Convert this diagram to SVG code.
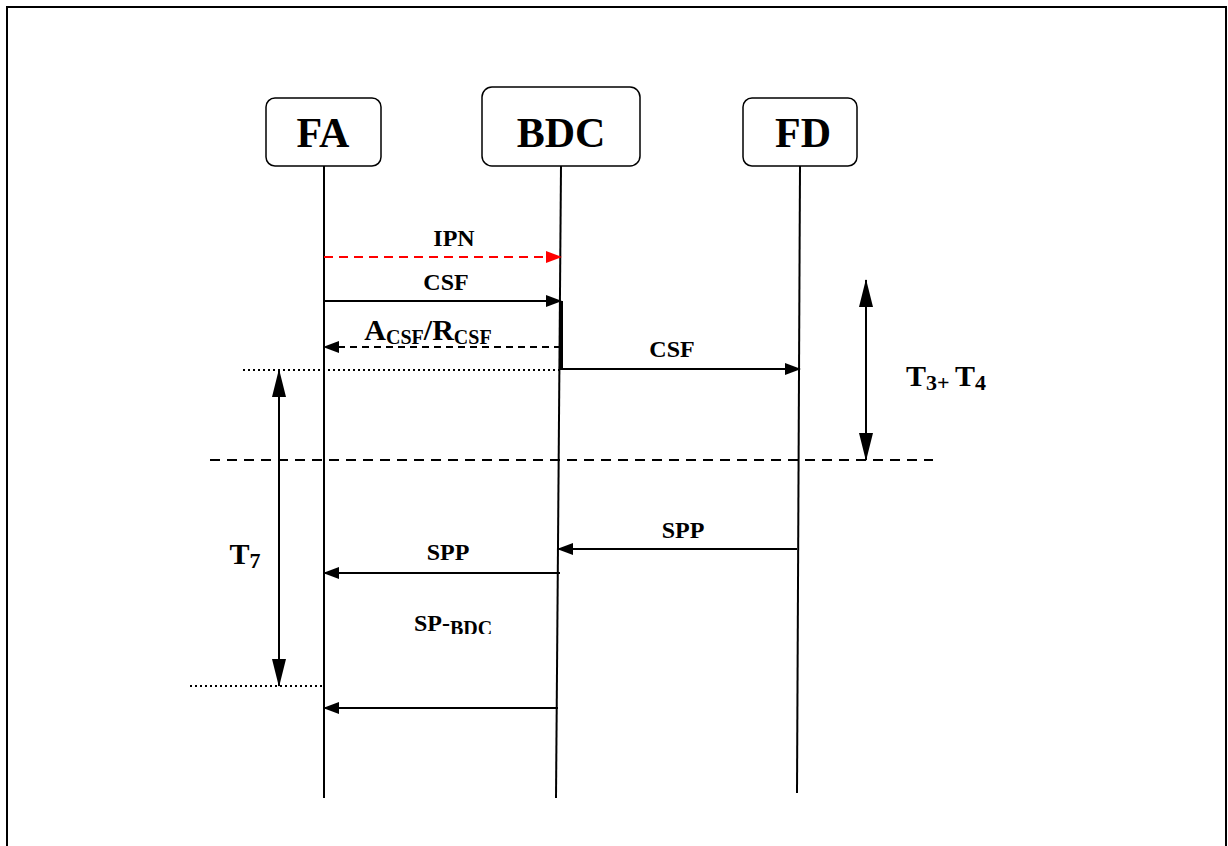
<svg xmlns="http://www.w3.org/2000/svg" width="1228" height="846" viewBox="0 0 1228 846">
<style>
.box{fill:#fff;stroke:#000;stroke-width:1.5}
.hd{font-family:"Liberation Serif",serif;font-weight:bold;font-size:42px;text-anchor:middle}
.lb{font-family:"Liberation Serif",serif;font-weight:bold;font-size:24px;text-anchor:middle}
.ll{stroke:#000;stroke-width:2;fill:none}
.msg{stroke:#000;stroke-width:2;fill:none}
</style>
<defs>
<marker id="ah" markerWidth="16" markerHeight="12" refX="15" refY="6" orient="auto" markerUnits="userSpaceOnUse"><path d="M0,0 L16,6 L0,12 z" fill="#000"/></marker>
<marker id="ahr" markerWidth="16" markerHeight="12" refX="15" refY="6" orient="auto" markerUnits="userSpaceOnUse"><path d="M0,0 L16,6 L0,12 z" fill="#f00"/></marker>
<marker id="dv" markerWidth="28" markerHeight="14" refX="27" refY="7" orient="auto-start-reverse" markerUnits="userSpaceOnUse"><path d="M0,0 L28,7 L0,14 z" fill="#000"/></marker>
<clipPath id="spclip"><rect x="380" y="590" width="160" height="44"/></clipPath>
</defs>
<rect x="7" y="7" width="1219" height="845" fill="#fff" stroke="#000" stroke-width="2"/>
<g id="FA"><rect class="box" x="266" y="98" width="115" height="68" rx="9"/><text class="hd" x="323" y="147">FA</text></g>
<g id="BDC"><rect class="box" x="482" y="87" width="158" height="79" rx="10"/><text class="hd" x="561" y="147">BDC</text></g>
<g id="FD"><rect class="box" x="743" y="98" width="114" height="68" rx="9"/><text class="hd" x="803" y="147">FD</text></g>
<g id="connectors">
<line class="ll" x1="324" y1="166" x2="324" y2="798"/>
<line class="ll" x1="561" y1="166" x2="556" y2="798"/>
<line class="ll" x1="800" y1="166" x2="797" y2="793"/>
<line x1="324" y1="257" x2="561" y2="257" stroke="#f00" stroke-width="2" stroke-dasharray="9,6" marker-end="url(#ahr)"/>
<line class="msg" x1="324" y1="301" x2="561" y2="301" marker-end="url(#ah)"/>
<line x1="561" y1="301" x2="561" y2="370" stroke="#000" stroke-width="4"/>
<line class="msg" x1="561" y1="347" x2="324" y2="347" stroke-dasharray="7,5" marker-end="url(#ah)"/>
<line x1="243" y1="370" x2="561" y2="370" stroke="#000" stroke-width="2" stroke-dasharray="2,3"/>
<line class="msg" x1="561" y1="369" x2="800" y2="369" marker-end="url(#ah)"/>
<line x1="866" y1="280" x2="866" y2="460" stroke="#000" stroke-width="2" marker-start="url(#dv)" marker-end="url(#dv)"/>
<line x1="210" y1="460" x2="933" y2="460" stroke="#000" stroke-width="2" stroke-dasharray="10,7"/>
<line x1="279" y1="370" x2="279" y2="686" stroke="#000" stroke-width="2" marker-start="url(#dv)" marker-end="url(#dv)"/>
<line class="msg" x1="797" y1="549" x2="558" y2="549" marker-end="url(#ah)"/>
<line class="msg" x1="560" y1="573" x2="324" y2="573" marker-end="url(#ah)"/>
<line x1="190" y1="686" x2="324" y2="686" stroke="#000" stroke-width="2" stroke-dasharray="2,3"/>
<line class="msg" x1="558" y1="708" x2="324" y2="708" marker-end="url(#ah)"/>
</g>
<g id="labels">
<text class="lb" x="454" y="246">IPN</text>
<text class="lb" x="446" y="290">CSF</text>
<text class="lb" x="428" y="340"><tspan font-size="30">A</tspan><tspan font-size="20" dy="4">CSF</tspan><tspan font-size="30" dy="-4">/R</tspan><tspan font-size="20" dy="4">CSF</tspan></text>
<text class="lb" x="946" y="386"><tspan font-size="30">T</tspan><tspan font-size="22" dy="4">3+ </tspan><tspan font-size="30" dy="-4">T</tspan><tspan font-size="22" dy="4">4</tspan></text>
<text class="lb" x="245" y="564"><tspan font-size="30">T</tspan><tspan font-size="22" dy="4">7</tspan></text>
<text class="lb" x="672" y="357">CSF</text>
<text class="lb" x="683" y="538">SPP</text>
<text class="lb" x="448" y="560">SPP</text>
<text class="lb" x="453" y="631" clip-path="url(#spclip)">SP-<tspan font-size="20" dy="4">BDC</tspan></text>
</g>
</svg>
